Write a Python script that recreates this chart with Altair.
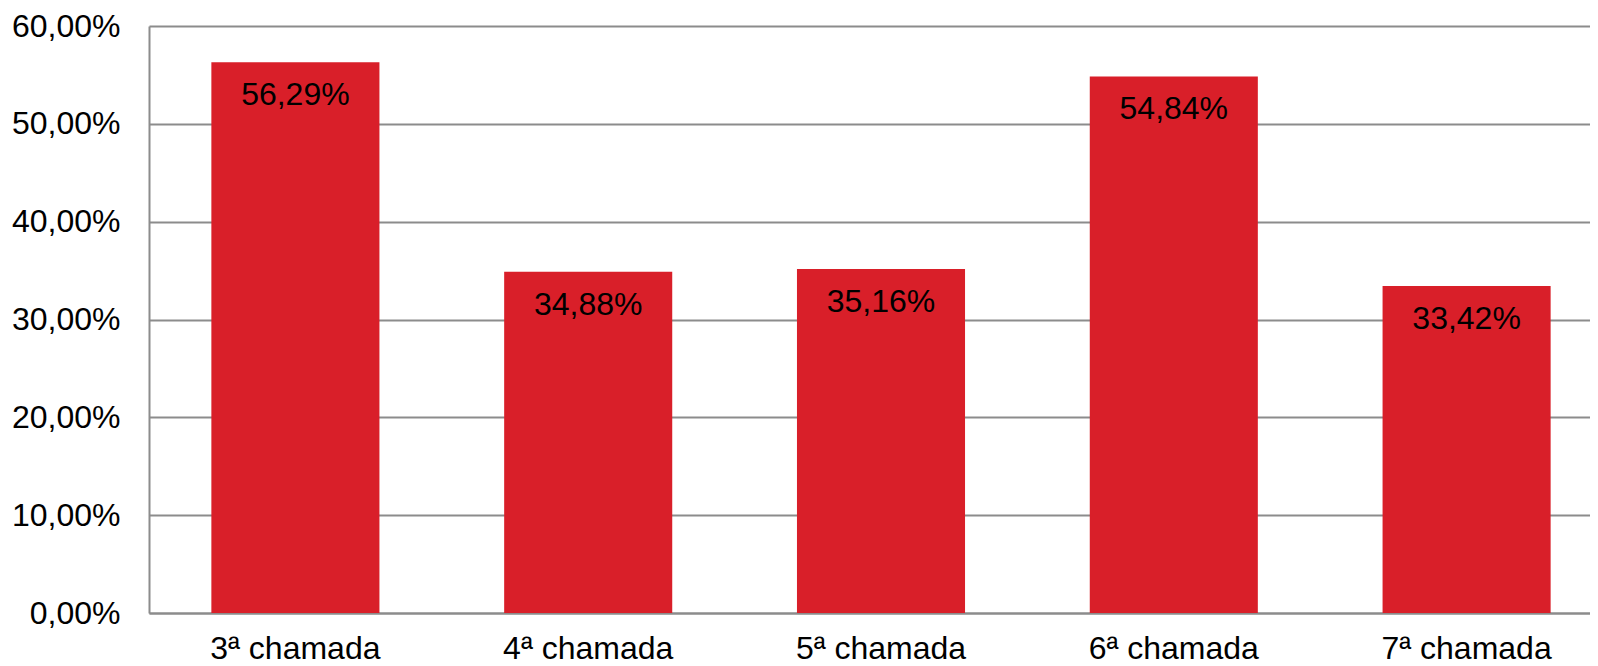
import altair as alt
import pandas as pd

categories = ["3ª chamada", "4ª chamada", "5ª chamada", "6ª chamada", "7ª chamada"]
values = [56.29, 34.88, 35.16, 54.84, 33.42]
labels = [f"{v:.2f}".replace(".", ",") + "%" for v in values]
y_ticks = [0, 10, 20, 30, 40, 50, 60]

df = pd.DataFrame({"cat": categories, "val": values, "lab": labels})

FONT = "Liberation Sans"
GRID = "#8c8c8c"
RED = "#d91f29"
FS = 32

x_enc = alt.X(
    "cat:N",
    sort=categories,
    title=None,
    scale=alt.Scale(range=[0, 1464], paddingInner=0.426, paddingOuter=0.213),
    axis=alt.Axis(
        labelAngle=0, ticks=False, domainColor=GRID, domainWidth=2,
        labelFont=FONT, labelFontSize=FS, labelColor="black",
        labelBaseline="alphabetic", labelPadding=45, grid=False,
    ),
)
y_enc = alt.Y(
    "val:Q",
    title=None,
    scale=alt.Scale(domain=[0, 60], nice=False),
    axis=alt.Axis(
        values=y_ticks, ticks=False, domainColor=GRID, domainWidth=2,
        gridColor=GRID, gridWidth=2, grid=True,
        labelFont=FONT, labelFontSize=FS, labelColor="black",
        labelPadding=29, labelExpr="replace(format(datum.value, '.2f'), '.', ',') + '%'",
    ),
)

bars = alt.Chart(df).mark_bar(color=RED).encode(x=x_enc, y=y_enc)
text = alt.Chart(df).mark_text(
    font=FONT, fontSize=FS, color="black", baseline="alphabetic", dy=43
).encode(x=alt.X("cat:N", sort=categories), y="val:Q", text="lab:N")

chart = (
    alt.layer(bars, text)
    .properties(
        width=1441, height=587,
        autosize=alt.AutoSizeParams(type="none"),
        padding={"left": 141, "top": 18, "right": 0, "bottom": 53},
    )
    .configure_view(stroke=None)
)

chart.save("out.html", embed_options={"renderer": "svg", "actions": False})
